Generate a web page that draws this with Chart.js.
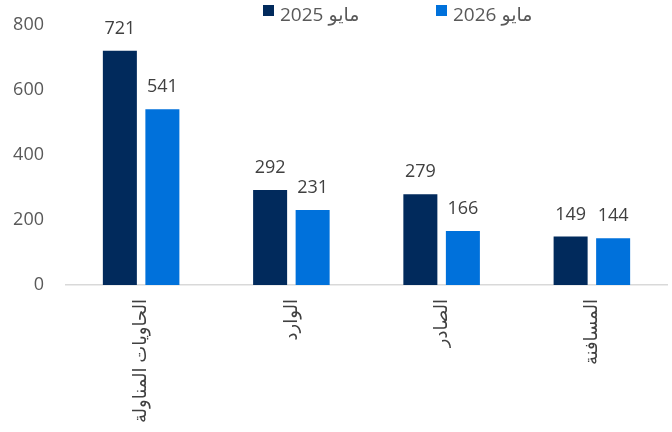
<!DOCTYPE html>
<html lang="ar">
<head>
<meta charset="utf-8">
<script src="https://cdn.jsdelivr.net/npm/chart.js@4/dist/chart.umd.min.js"></script>
<style>
  html, body { margin: 0; padding: 0; background: #fff; }
  #wrap { width: 672px; height: 432px; }
</style>
</head>
<body>
<div id="wrap"><canvas id="chart"></canvas></div>
<script>
const categories = ['الحاويات المناولة', 'الوارد', 'الصادر', 'المسافنة'];
const seriesNames = ['مايو 2025', 'مايو 2026'];
const may2025 = [721, 292, 279, 149];
const may2026 = [541, 231, 166, 144];
const yTicks = [0, 200, 400, 600, 800];

const FONT = "'Open Sans', 'DejaVu Sans', sans-serif";
const colors = ['#012a5c', '#0071db'];

// value labels above each bar
const barValues = {
  id: 'barValues',
  afterDatasetsDraw(chart) {
    const ctx = chart.ctx;
    ctx.save();
    ctx.font = '18px ' + FONT;
    ctx.fillStyle = '#404040';
    ctx.textAlign = 'center';
    ctx.textBaseline = 'alphabetic';
    chart.data.datasets.forEach((ds, i) => {
      chart.getDatasetMeta(i).data.forEach((bar, j) => {
        ctx.fillText(ds.data[j], bar.x, bar.y - 17);
      });
    });
    ctx.restore();
  }
};

// legend drawn by hand, it sits right of centre in the original
const topLegend = {
  id: 'topLegend',
  afterDraw(chart) {
    const ctx = chart.ctx;
    const starts = [263, 436];
    ctx.save();
    ctx.font = '19px ' + FONT;
    ctx.textBaseline = 'alphabetic';
    ctx.textAlign = 'left';
    chart.data.datasets.forEach((ds, i) => {
      ctx.fillStyle = ds.backgroundColor;
      ctx.fillRect(starts[i], 5, 11, 11);
      ctx.fillStyle = '#595959';
      ctx.fillText(ds.label, starts[i] + 17, 21);
    });
    ctx.restore();
  }
};

new Chart(document.getElementById('chart'), {
  type: 'bar',
  data: {
    labels: categories,
    datasets: [
      { label: seriesNames[0], data: may2025, backgroundColor: colors[0] },
      { label: seriesNames[1], data: may2026, backgroundColor: colors[1] }
    ]
  },
  options: {
    responsive: true,
    maintainAspectRatio: false,
    animation: false,
    categoryPercentage: 0.566,
    barPercentage: 0.8,
    layout: { padding: { top: 25, right: 5, left: 0, bottom: 0 } },
    plugins: {
      legend: { display: false },
      tooltip: { enabled: false }
    },
    scales: {
      x: {
        grid: { display: false, drawTicks: false },
        border: { display: true, color: '#d9d9d9', width: 1.5 },
        ticks: {
          font: { family: FONT, size: 18 },
          color: '#404040',
          minRotation: 90,
          maxRotation: 90,
          padding: 14
        },
        afterFit(scale) { scale.height = 147; }
      },
      y: {
        min: 0,
        max: 800,
        // tick marks are hidden, tickLength only spaces the labels from the plot
        grid: { display: false, drawTicks: true, tickLength: 22 },
        border: { display: false },
        afterBuildTicks(scale) { scale.ticks = yTicks.map(v => ({ value: v })); },
        ticks: {
          font: { family: FONT, size: 18 },
          color: '#595959',
          padding: 0
        },
        afterFit(scale) { scale.width = 66; }
      }
    }
  },
  plugins: [barValues, topLegend]
});
</script>
</body>
</html>
